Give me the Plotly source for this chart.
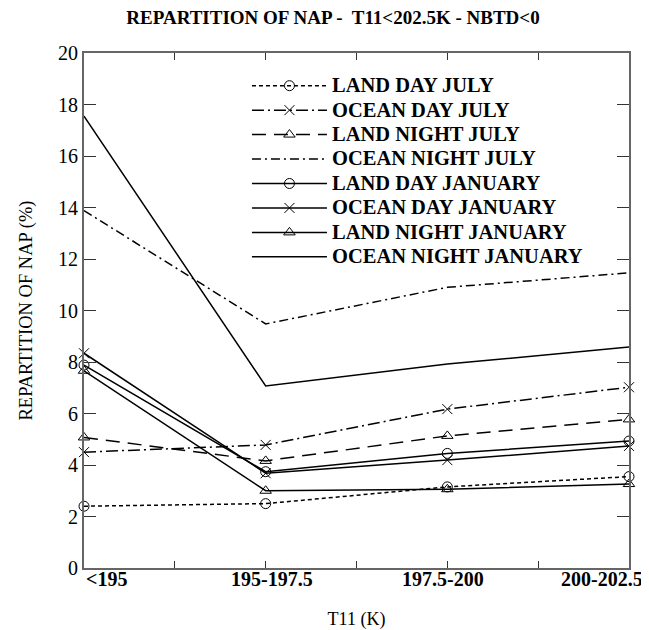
import plotly.graph_objects as go

categories = ["<195", "195-197.5", "197.5-200", "200-202.5"]
x_pos = [0, 1, 2, 3]

land_day_july = [2.4, 2.5, 3.15, 3.55]
ocean_day_july = [4.5, 4.78, 6.17, 7.02]
land_night_july = [5.07, 4.16, 5.13, 5.77]
ocean_night_july = [13.88, 9.48, 10.9, 11.46]
land_day_january = [7.88, 3.74, 4.45, 4.93]
ocean_day_january = [8.34, 3.68, 4.19, 4.74]
land_night_january = [7.66, 3.0, 3.06, 3.26]
ocean_night_january = [17.55, 7.07, 7.92, 8.58]

y_ticks = [0, 2, 4, 6, 8, 10, 12, 14, 16, 18, 20]

SERIF = "Liberation Serif, Times New Roman, serif"

series = [
    ("LAND DAY JULY", land_day_july, "4px,3px", "circle-open"),
    ("OCEAN DAY JULY", ocean_day_july, "12px,4px,2px,4px", "x-thin-open"),
    ("LAND NIGHT JULY", land_night_july, "14px,8px", "triangle-up-open"),
    ("OCEAN NIGHT JULY", ocean_night_july, "9px,4px,2px,4px", None),
    ("LAND DAY JANUARY", land_day_january, "solid", "circle-open"),
    ("OCEAN DAY JANUARY", ocean_day_january, "solid", "x-thin-open"),
    ("LAND NIGHT JANUARY", land_night_january, "solid", "triangle-up-open"),
    ("OCEAN NIGHT JANUARY", ocean_night_january, "solid", None),
]

fig = go.Figure()
for name, vals, dash, sym in series:
    label = "<b><span style='font-size:20.5px'>%s</span></b>" % name
    if sym:
        fig.add_trace(go.Scatter(
            x=x_pos, y=vals, name=label, mode="lines+markers",
            line=dict(color="black", width=1.5, dash=dash),
            marker=dict(symbol=sym, size=10, color="black",
                        line=dict(color="black", width=1)),
            cliponaxis=False,
        ))
    else:
        fig.add_trace(go.Scatter(
            x=x_pos, y=vals, name=label, mode="lines",
            line=dict(color="black", width=1.5, dash=dash),
            cliponaxis=False,
        ))

# x tick labels as annotations so end labels can be aligned like the reference
anchors = ["left", "center", "center", "right"]
shifts = [0, 6, -4, 16]
for xp, lab, anc, sh in zip(x_pos, categories, anchors, shifts):
    fig.add_annotation(x=xp, y=0, xref="x", yref="y",
                       text="<b>%s</b>" % lab.replace("<", "&lt;"),
                       showarrow=False, xanchor=anc, yanchor="top", yshift=2, xshift=sh,
                       font=dict(family=SERIF, size=20, color="black"))

# the page body has an 8px margin, so the figure is sized to fit the window
W, H = 641, 622
fig.update_layout(
    width=W, height=H,
    margin=dict(l=76, r=20, t=45, b=62),
    paper_bgcolor="white", plot_bgcolor="white",
    title=dict(text="<b>REPARTITION OF NAP -  T11&lt;202.5K - NBTD&lt;0</b>",
               x=325 / W, xanchor="center", y=1 - 9 / H, yanchor="middle",
               font=dict(family=SERIF, size=19, color="black")),
    showlegend=True,
    legend=dict(x=0.299, y=0.970, xanchor="left", yanchor="top",
                bgcolor="rgba(0,0,0,0)", borderwidth=0,
                font=dict(family=SERIF, size=16.5, color="black"),
                tracegroupgap=0, itemwidth=75),
    font=dict(family=SERIF, color="black"),
)

fig.update_xaxes(
    range=[0, 3], tickvals=x_pos, ticktext=["", "", "", ""],
    showgrid=False, zeroline=False, automargin=False,
    showline=True, linecolor="#666666", linewidth=2, mirror="ticks",
    ticks="inside", ticklen=7, tickcolor="#333333", tickwidth=1,
    minor=dict(ticks="inside", ticklen=7, tickcolor="#333333", dtick=0.5, tick0=0),
    title=dict(text="T11 (K)", font=dict(family=SERIF, size=18, color="black"), standoff=44),
)
fig.update_yaxes(
    range=[0, 20], tickvals=y_ticks,
    showgrid=False, zeroline=False, automargin=False,
    showline=True, linecolor="#666666", linewidth=2, mirror="ticks",
    ticks="inside", ticklen=12, tickcolor="#333333", tickwidth=1,
    tickfont=dict(family=SERIF, size=20, color="black"),
    title=dict(text="REPARTITION OF NAP (%)", font=dict(family=SERIF, size=18.5, color="black"), standoff=21),
)

fig.write_html("out.html")
